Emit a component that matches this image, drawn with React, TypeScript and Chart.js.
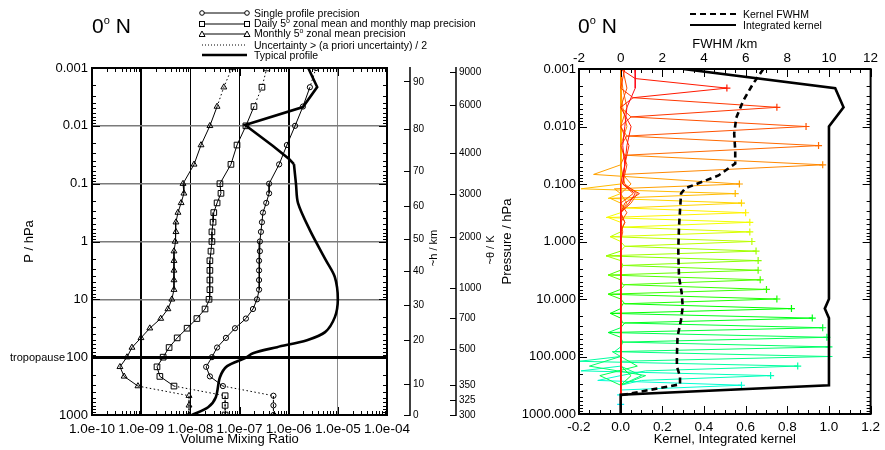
import React, { useEffect, useRef } from "react";
import { Chart, registerables } from "chart.js";

Chart.register(...registerables);

const FONT = '"Liberation Sans", Arial, Helvetica, sans-serif';

// Retrieval pressure levels (hPa)
const PRESSURE = [
  0.001, 0.00215, 0.00464, 0.01, 0.0215, 0.0464, 0.1, 0.147, 0.215, 0.316, 0.464, 0.681,
  1, 1.47, 2.15, 3.16, 4.64, 6.81, 10, 14.7, 21.5, 31.6, 46.4, 68.1, 100, 147, 215, 316,
  464, 681, 1000,
];

// Precision estimates (volume mixing ratio) on the retrieval levels
const SINGLE_PROFILE = [
  3.6e-6, 2.7e-6, 1.95e-6, 1.35e-6, 9.2e-7, 6.4e-7, 4.0e-7, 4.0e-7, 3.5e-7, 3.0e-7, 2.86e-7,
  2.73e-7, 2.6e-7, 2.6e-7, 2.5e-7, 2.5e-7, 2.5e-7, 2.5e-7, 2.27e-7, 1.88e-7, 1.35e-7, 8.1e-8,
  5.3e-8, 3.5e-8, 2.75e-8, 2.1e-8, 2.5e-8, 4.6e-8, 4.9e-7, 4.9e-7, 4.9e-7,
];
const DAILY_ZONAL = [
  3.6e-7, 2.86e-7, 1.97e-7, 1.35e-7, 8.9e-8, 6.7e-8, 4.0e-8, 4.2e-8, 3.5e-8, 3.0e-8, 2.9e-8,
  2.75e-8, 2.75e-8, 2.63e-8, 2.5e-8, 2.5e-8, 2.5e-8, 2.5e-8, 2.4e-8, 1.99e-8, 1.36e-8, 8.6e-9,
  5.4e-9, 3.7e-9, 2.8e-9, 2.1e-9, 2.4e-9, 4.65e-9, 5.1e-8, 5.1e-8, 5.1e-8,
];
const MONTHLY_ZONAL = [
  7.0e-8, 4.8e-8, 3.5e-8, 2.5e-8, 1.65e-8, 1.19e-8, 7.1e-9, 7.4e-9, 6.5e-9, 5.6e-9, 5.1e-9,
  5.1e-9, 4.9e-9, 4.65e-9, 4.65e-9, 4.65e-9, 4.65e-9, 4.65e-9, 4.2e-9, 3.5e-9, 2.5e-9, 1.5e-9,
  9.9e-10, 6.5e-10, 5.15e-10, 3.7e-10, 4.5e-10, 8.6e-10, 9.4e-9, 9.4e-9, 9.4e-9,
];

// Typical profile
const TYPICAL_PRESSURE = [
  0.001, 0.00213, 0.00473, 0.0097, 0.0223, 0.0375, 0.0458, 0.102, 0.217, 0.635, 2.1, 4.13,
  9.93, 20.3, 36.9, 50.8, 67.1, 85.3, 104, 143, 222, 492, 733, 1000,
];
const TYPICAL_VMR = [
  2.5e-6, 3.8e-6, 1.95e-6, 1.3e-7, 4.8e-7, 1.02e-6, 1.28e-6, 1.41e-6, 1.55e-6, 2.7e-6, 5.7e-6,
  8.7e-6, 1.0e-5, 8.7e-6, 5.5e-6, 2.36e-6, 5.8e-7, 1.88e-7, 1.3e-7, 5.6e-8, 4.0e-8, 3.3e-8,
  2.3e-8, 1.08e-8,
];

const VMR_DECADES = [1e-10, 1e-9, 1e-8, 1e-7, 1e-6, 1e-5, 1e-4];
const PRESSURE_DECADES = [0.001, 0.01, 0.1, 1, 10, 100, 1000];
const TROPOPAUSE_HPA = 100;

// Approximate altitude and potential temperature scales
const HEIGHT_KM = [0, 10, 20, 30, 40, 50, 60, 70, 80, 90];
const HEIGHT_PRESSURE = [1000, 293, 50.8, 12.6, 3.25, 0.908, 0.244, 0.0605, 0.01135, 0.00173];
const THETA_K = [300, 325, 350, 500, 700, 1000, 2000, 3000, 4000, 6000, 9000];
const THETA_PRESSURE = [1000, 555, 305, 72.8, 21.1, 6.4, 0.84, 0.151, 0.0296, 0.00449, 0.0012];

// Averaging kernels: peak value on its own level, lobes half a level above / below
const KERNEL_PEAK = [
  0.07, 0.51, 0.75, 0.89, 0.95, 0.97, 0.57, 0.55, 0.58, 0.6, 0.62, 0.62, 0.63, 0.65, 0.66,
  0.66, 0.67, 0.7, 0.75, 0.82, 0.92, 0.97, 0.99, 1.0, 1.0, 0.85, 0.72, 0.58, 0.0, 0.0, 0.0,
];
const KERNEL_LOBE_ABOVE = [
  0, 0.07, 0.06, 0.05, 0.03, 0.02, -0.13, -0.19, -0.06, 0.02, -0.07, 0.01, -0.05, 0.02, -0.07,
  0.01, -0.06, 0.01, -0.06, 0.02, -0.05, 0.01, -0.06, 0.01, -0.03, -0.2, -0.19, -0.11, 0, 0, 0,
];
const KERNEL_LOBE_BELOW = [
  0.07, 0.06, 0.05, 0.03, 0.02, 0.01, -0.03, -0.05, 0.02, -0.06, 0.01, -0.05, 0.02, -0.07, 0.01,
  -0.06, 0.02, -0.06, 0.01, -0.05, 0.02, -0.06, 0.01, -0.04, 0.0, 0.12, 0.1, 0.0, 0, 0, 0,
];
// Off-peak kernel values: [kernel index, level index, value]
const KERNEL_TAILS: [number, number, number][] = [
  [0, 1, 0.07], [0, 2, 0.03], [0, 3, 0.02], [0, 4, 0.01], [0, 5, 0.02],
  [1, 3, 0.05], [1, 4, 0.03], [1, 5, 0.02], [1, 6, 0.01],
  [2, 0, 0.02], [2, 4, 0.04], [2, 5, 0.02], [2, 6, 0.01],
  [3, 0, 0.01], [3, 1, 0.03], [3, 5, 0.03], [3, 6, 0.01],
  [4, 1, 0.01], [4, 2, 0.03], [4, 6, 0.02],
  [5, 2, 0.01], [5, 3, 0.03],
  [1, 7, 0.07], [2, 7, 0.09], [3, 7, 0.06], [4, 7, 0.08], [5, 6, 0.05],
  [1, 8, 0.04], [2, 8, 0.02], [3, 9, 0.03], [4, 8, 0.05], [5, 8, 0.03],
  [2, 10, 0.02], [4, 10, 0.02], [3, 11, 0.01],
  [22, 25, 0.08], [23, 26, 0.12], [22, 26, -0.1], [23, 25, -0.15], [24, 26, 0.1], [21, 26, 0.05],
];
const INTEGRATED_KERNEL = [
  0.3, 1.03, 1.07, 1.0, 1.0, 1.0, 1.0, 1.0, 1.0, 1.0, 1.0, 1.0, 1.0, 1.0, 1.0, 1.0, 1.0, 1.0,
  1.0, 0.98, 1.0, 1.0, 1.0, 1.0, 1.0, 1.0, 1.0, 1.0, 0.0, 0.0, 0.0,
];
const FWHM_PRESSURE = [
  0.001, 0.00182, 0.00358, 0.00705, 0.0133, 0.0262, 0.044, 0.071, 0.119, 0.146, 0.286, 0.563,
  1.25, 1.72, 4.13, 7.81, 13.6, 22.9, 45.1, 100, 149, 222, 305, 473,
];
const FWHM_KM = [
  6.85, 6.35, 5.88, 5.55, 5.45, 5.5, 5.5, 4.7, 3.1, 2.9, 2.85, 2.8, 2.77, 2.77, 2.8, 2.93, 2.98,
  2.9, 2.73, 2.7, 2.7, 2.85, 2.85, 0.0,
];

const tickFont = (size = 13) => ({ family: FONT, size });

const decadeMinors = (from: number, to: number) => {
  const out: number[] = [];
  for (let d = from; d < to; d++) for (let m = 2; m <= 9; m++) out.push(m * Math.pow(10, d));
  return out;
};

const expLabel = (v: number) => {
  const e = Math.round(Math.log10(v));
  return `1.0e${e < 0 ? "-" : "+"}${String(Math.abs(e)).padStart(2, "0")}`;
};

const fixed = (v: number, digits: number) => (Math.abs(v) < 1e-9 ? 0 : v).toFixed(digits);

// Frame with inward major / minor ticks, plus optional detached axis lines
const framePlugin = (
  xMajor: number[], xMinor: number[], yMajor: number[], yMinor: number[], axisLines: string[] = []
) => ({
  id: "frameTicks",
  afterDatasetsDraw(chart: any) {
    const { ctx, chartArea: a } = chart;
    const xs = chart.scales.x;
    const ys = chart.scales.y;
    ctx.save();
    ctx.strokeStyle = "#000";
    ctx.lineWidth = 1;
    ctx.beginPath();
    const xt = (vals: number[], len: number) => {
      for (const v of vals) {
        const px = Math.round(xs.getPixelForValue(v)) + 0.5;
        ctx.moveTo(px, a.bottom); ctx.lineTo(px, a.bottom - len);
        ctx.moveTo(px, a.top); ctx.lineTo(px, a.top + len);
      }
    };
    const yt = (vals: number[], len: number) => {
      for (const v of vals) {
        const py = Math.round(ys.getPixelForValue(v)) + 0.5;
        ctx.moveTo(a.left, py); ctx.lineTo(a.left + len, py);
        ctx.moveTo(a.right, py); ctx.lineTo(a.right - len, py);
      }
    };
    xt(xMajor, 8); xt(xMinor, 4); yt(yMajor, 8); yt(yMinor, 4);
    ctx.stroke();
    ctx.lineWidth = 2;
    ctx.strokeRect(a.left, a.top, a.right - a.left, a.bottom - a.top);
    ctx.lineWidth = 1.5;
    for (const id of axisLines) {
      const s = chart.scales[id];
      const x = s.left + 6;
      ctx.beginPath();
      ctx.moveTo(x, a.top - 1);
      ctx.lineTo(x, a.bottom + 1);
      ctx.stroke();
    }
    ctx.restore();
  },
});

const precisionDataset = (values: number[], style: string, radius: number, dottedAbove: number) => ({
  data: values.map((v, i) => ({ x: v, y: PRESSURE[i] })),
  showLine: true,
  borderColor: "#000",
  borderWidth: 1,
  pointStyle: style,
  pointRadius: radius,
  pointBorderColor: "#000",
  pointBackgroundColor: "rgba(255,255,255,0)",
  pointBorderWidth: 1,
  segment: {
    borderDash: (c: any) =>
      c.p0DataIndex < dottedAbove || c.p0DataIndex >= PRESSURE.length - 4 ? [1.5, 2.5] : undefined,
  },
});

const sideAxis = (pressures: number[], labels: number[]) => ({
  type: "logarithmic",
  position: "right",
  reverse: true,
  min: 0.001,
  max: 1000,
  afterBuildTicks: (s: any) => { s.ticks = pressures.map((p) => ({ value: p })); },
  ticks: {
    autoSkip: false,
    padding: 3,
    color: "#000",
    font: tickFont(10),
    callback: (_v: any, i: number) => String(labels[i]),
  },
  grid: { drawOnChartArea: false, drawTicks: true, tickLength: 6, color: "#000", lineWidth: 1 },
  border: { display: false },
});

function leftConfig(): any {
  const typical = TYPICAL_VMR.map((v, i) => ({ x: v, y: TYPICAL_PRESSURE[i] }));
  const thick = { showLine: true, borderColor: "#000", borderWidth: 2.6, pointRadius: 0 };
  return {
    type: "scatter",
    data: {
      datasets: [
        { ...thick, data: typical.slice(0, 7), tension: 0 },
        { ...thick, data: typical.slice(6), tension: 0.3 },
        precisionDataset(SINGLE_PROFILE, "circle", 2.6, 1),
        precisionDataset(DAILY_ZONAL, "rect", 4, 2),
        precisionDataset(MONTHLY_ZONAL, "triangle", 3.4, 2),
      ],
    },
    options: {
      animation: false,
      responsive: false,
      layout: { padding: { top: 68, left: 0, right: 0, bottom: 0 } },
      plugins: { legend: { display: false }, tooltip: { enabled: false } },
      scales: {
        x: {
          type: "logarithmic",
          position: "bottom",
          min: 1e-10,
          max: 1e-4,
          afterBuildTicks: (s: any) => { s.ticks = VMR_DECADES.map((v) => ({ value: v })); },
          afterFit: (s: any) => { s.height = 35; },
          ticks: { autoSkip: false, maxRotation: 0, padding: 6, color: "#000", font: tickFont(13.5), callback: (v: any) => expLabel(Number(v)) },
          grid: {
            drawTicks: false,
            color: (c: any) => {
              const e = Math.round(Math.log10(c.tick.value));
              if (e === -10 || e === -4) return "rgba(0,0,0,0)";
              return e === -5 ? "#8a8a8a" : "#000";
            },
            lineWidth: (c: any) => {
              const e = Math.round(Math.log10(c.tick.value));
              return e === -9 || e === -6 ? 2 : 1;
            },
          },
          border: { display: false },
          title: { display: true, text: "Volume Mixing Ratio", color: "#000", font: tickFont(13), padding: { top: 0, bottom: 3 } },
        },
        y: {
          type: "logarithmic",
          position: "left",
          reverse: true,
          min: 0.001,
          max: 1000,
          afterBuildTicks: (s: any) => { s.ticks = PRESSURE_DECADES.map((v) => ({ value: v })); },
          afterFit: (s: any) => { s.width = 92; },
          ticks: { autoSkip: false, padding: 4, color: "#000", font: tickFont(13), callback: (v: any) => String(Number(v)) },
          grid: {
            drawTicks: false,
            color: (c: any) => {
              const v = c.tick.value;
              if (v <= 0.001 || v >= 1000) return "rgba(0,0,0,0)";
              return v === TROPOPAUSE_HPA ? "#000" : "#7a7a7a";
            },
            lineWidth: (c: any) => (c.tick.value === TROPOPAUSE_HPA ? 3 : 1.5),
          },
          border: { display: false },
          title: { display: true, text: "P / hPa", color: "#000", font: tickFont(13), padding: { top: 22, bottom: 0 } },
        },
        pad: {
          type: "linear",
          position: "right",
          min: 0,
          max: 1,
          ticks: { display: false },
          grid: { display: false, drawTicks: false },
          border: { display: false },
          afterFit: (s: any) => { s.width = 17; },
        },
        h: { ...sideAxis(HEIGHT_PRESSURE, HEIGHT_KM), afterFit: (s: any) => { s.width = 46; } },
        th: { ...sideAxis(THETA_PRESSURE, THETA_K), afterFit: (s: any) => { s.width = 70; } },
      },
    },
    plugins: [
      framePlugin(VMR_DECADES, decadeMinors(-10, -4), PRESSURE_DECADES, decadeMinors(-3, 3), ["h", "th"]),
    ],
  };
}

const kernelColor = (k: number) => (k === 0 ? "hsl(356,100%,52%)" : `hsl(${Math.round(k * 6.3)},100%,50%)`);

const kernelPoints = (k: number) => {
  const pts: { x: number; y: number }[] = [];
  for (let j = 0; j < PRESSURE.length; j++) {
    let v = j === k ? KERNEL_PEAK[k] : 0;
    const tail = KERNEL_TAILS.find((t) => t[0] === k && t[1] === j);
    if (tail) v = tail[2];
    pts.push({ x: v, y: PRESSURE[j] });
    if ((j === k - 1 || j === k) && j + 1 < PRESSURE.length) {
      const mid = Math.sqrt(PRESSURE[j] * PRESSURE[j + 1]);
      pts.push({ x: j === k - 1 ? KERNEL_LOBE_ABOVE[k] : KERNEL_LOBE_BELOW[k], y: mid });
    }
  }
  return pts;
};

function rightConfig(): any {
  const kernels = KERNEL_PEAK.map((_p, k) => {
    const peakIndex = k === 0 ? 0 : k + 1;
    const col = kernelColor(k);
    return {
      data: kernelPoints(k),
      showLine: true,
      borderColor: col,
      borderWidth: 1,
      pointStyle: "cross",
      pointRadius: (c: any) => (c.dataIndex === peakIndex ? 3.5 : 0),
      pointBorderColor: col,
      pointBorderWidth: 1.2,
      xAxisID: "x",
      yAxisID: "y",
    };
  });
  return {
    type: "scatter",
    data: {
      datasets: [
        {
          data: INTEGRATED_KERNEL.map((v, i) => ({ x: v, y: PRESSURE[i] })),
          showLine: true, borderColor: "#000", borderWidth: 2.6, pointRadius: 0, xAxisID: "x", yAxisID: "y",
        },
        {
          data: FWHM_KM.map((v, i) => ({ x: v, y: FWHM_PRESSURE[i] })),
          showLine: true, borderColor: "#000", borderWidth: 2.6, borderDash: [6, 4], pointRadius: 0, xAxisID: "x2", yAxisID: "y",
        },
        ...kernels,
      ],
    },
    options: {
      animation: false,
      responsive: false,
      layout: { padding: { top: 0, left: 0, right: 11, bottom: 0 } },
      plugins: { legend: { display: false }, tooltip: { enabled: false } },
      scales: {
        x: {
          type: "linear",
          position: "bottom",
          min: -0.2,
          max: 1.2,
          afterFit: (s: any) => { s.height = 36; },
          ticks: { stepSize: 0.2, autoSkip: false, maxRotation: 0, padding: 5, color: "#000", font: tickFont(13.5), callback: (v: any) => fixed(Number(v), 1) },
          grid: { display: false, drawTicks: false },
          border: { display: false },
          title: { display: true, text: "Kernel, Integrated kernel", color: "#000", font: tickFont(13), padding: { top: 0, bottom: 3 } },
        },
        x2: {
          type: "linear",
          position: "top",
          min: -2,
          max: 12,
          afterFit: (s: any) => { s.height = 69; },
          ticks: { stepSize: 2, autoSkip: false, maxRotation: 0, padding: 3, color: "#000", font: tickFont(13.5), callback: (v: any) => fixed(Number(v), 0) },
          grid: { display: false, drawTicks: false },
          border: { display: false },
          title: { display: true, text: "FWHM /km", color: "#000", font: tickFont(13), padding: { top: 37, bottom: 0 } },
        },
        y: {
          type: "logarithmic",
          position: "left",
          reverse: true,
          min: 0.001,
          max: 1000,
          afterBuildTicks: (s: any) => { s.ticks = PRESSURE_DECADES.map((v) => ({ value: v })); },
          afterFit: (s: any) => { s.width = 79; },
          ticks: { autoSkip: false, padding: 3, color: "#000", font: tickFont(13), callback: (v: any) => Number(v).toFixed(3) },
          grid: { display: false, drawTicks: false },
          border: { display: false },
          title: { display: true, text: "Pressure / hPa", color: "#000", font: tickFont(13), padding: { top: 0, bottom: 0 } },
        },
      },
    },
    plugins: [
      framePlugin(
        [-0.2, 0, 0.2, 0.4, 0.6, 0.8, 1.0, 1.2],
        [-0.15, -0.1, -0.05, 0.05, 0.1, 0.15, 0.25, 0.3, 0.35, 0.45, 0.5, 0.55, 0.65, 0.7, 0.75, 0.85, 0.9, 0.95, 1.05, 1.1, 1.15],
        PRESSURE_DECADES,
        decadeMinors(-3, 3)
      ),
    ],
  };
}

const Title = ({ left }: { left: number }) => (
  <div style={{ position: "absolute", left, top: 15, fontSize: 21, lineHeight: "21px", whiteSpace: "nowrap" }}>
    0<span style={{ fontSize: 11, position: "relative", top: -9 }}>o</span> N
  </div>
);

const LegendRow = ({ top, left, children, symbol }: { top: number; left: number; children: React.ReactNode; symbol: React.ReactNode }) => (
  <div style={{ position: "absolute", left, top: top - 6, height: 12, display: "flex", alignItems: "center", whiteSpace: "nowrap", fontSize: 10.5, lineHeight: "12px" }}>
    <svg width={52} height={10} style={{ marginRight: 3 }}>{symbol}</svg>
    <span>{children}</span>
  </div>
);

const markerLine = (marker: (cx: number) => React.ReactNode) => (
  <>
    <line x1={3} y1={5} x2={48} y2={5} stroke="#000" strokeWidth={1} />
    {marker(3)}
    {marker(48)}
  </>
);

export default function App() {
  const leftRef = useRef<HTMLCanvasElement>(null);
  const rightRef = useRef<HTMLCanvasElement>(null);

  useEffect(() => {
    const left = new Chart(leftRef.current as HTMLCanvasElement, leftConfig());
    const right = new Chart(rightRef.current as HTMLCanvasElement, rightConfig());
    return () => {
      left.destroy();
      right.destroy();
    };
  }, []);

  return (
    <div style={{ position: "fixed", left: 0, top: 0, width: 885, height: 450, background: "#fff", fontFamily: FONT, color: "#000", overflow: "hidden" }}>
      <canvas ref={leftRef} width={520} height={450} style={{ position: "absolute", left: 0, top: 0 }} />
      <canvas ref={rightRef} width={385} height={450} style={{ position: "absolute", left: 500, top: 0 }} />

      <Title left={92} />
      <Title left={578} />

      <LegendRow left={199} top={13} symbol={markerLine((cx) => <circle key={cx} cx={cx} cy={5} r={2.3} fill="#fff" stroke="#000" />)}>
        Single profile precision
      </LegendRow>
      <LegendRow left={199} top={23.5} symbol={markerLine((cx) => <rect key={cx} x={cx - 2.5} y={2.5} width={5} height={5} fill="#fff" stroke="#000" />)}>
        Daily 5<span style={{ fontSize: 7, position: "relative", top: -4 }}>o</span> zonal mean and monthly map precision
      </LegendRow>
      <LegendRow left={199} top={34} symbol={markerLine((cx) => <polygon key={cx} points={`${cx},2 ${cx + 3},7.5 ${cx - 3},7.5`} fill="#fff" stroke="#000" />)}>
        Monthly 5<span style={{ fontSize: 7, position: "relative", top: -4 }}>o</span> zonal mean precision
      </LegendRow>
      <LegendRow left={199} top={44.5} symbol={<line x1={3} y1={5} x2={48} y2={5} stroke="#000" strokeWidth={1} strokeDasharray="1 2" />}>
        Uncertainty &gt; (a priori uncertainty) / 2
      </LegendRow>
      <LegendRow left={199} top={55} symbol={<line x1={3} y1={5} x2={48} y2={5} stroke="#000" strokeWidth={2.6} />}>
        Typical profile
      </LegendRow>

      <LegendRow left={688} top={14} symbol={<line x1={2} y1={5} x2={48} y2={5} stroke="#000" strokeWidth={2.2} strokeDasharray="6 4" />}>
        Kernel FWHM
      </LegendRow>
      <LegendRow left={688} top={25} symbol={<line x1={2} y1={5} x2={48} y2={5} stroke="#000" strokeWidth={2.2} />}>
        Integrated kernel
      </LegendRow>

      <div style={{ position: "absolute", left: 10, top: 351, fontSize: 11, lineHeight: "13px" }}>tropopause</div>

      <div style={{ position: "absolute", left: 433, top: 248, fontSize: 11, lineHeight: "13px", whiteSpace: "nowrap", transform: "translate(-50%, -50%) rotate(-90deg)" }}>
        ~h / km
      </div>
      <div style={{ position: "absolute", left: 490, top: 250, fontSize: 11, lineHeight: "13px", whiteSpace: "nowrap", transform: "translate(-50%, -50%) rotate(-90deg)" }}>
        ~θ / K
      </div>
    </div>
  );
}
